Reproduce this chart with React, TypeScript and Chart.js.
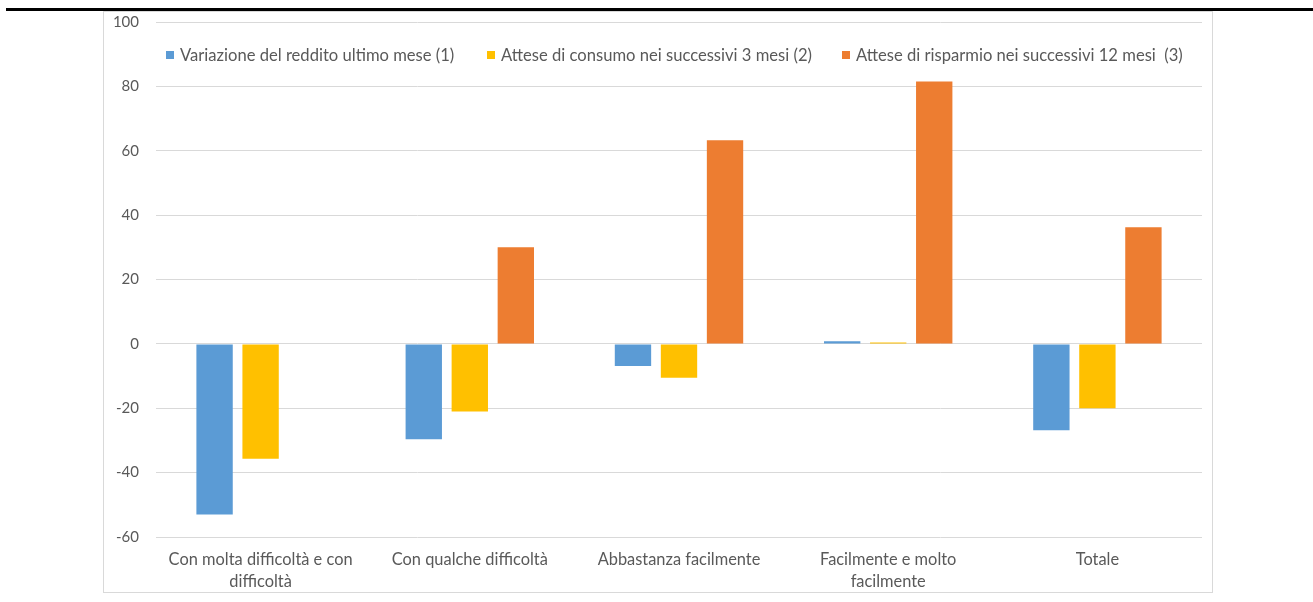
import React, { useEffect, useRef } from "react";
import { Chart, registerables } from "chart.js";

Chart.register(...registerables);

const categories: string[][] = [
  ["Con molta difficoltà e con", "difficoltà"],
  ["Con qualche difficoltà"],
  ["Abbastanza facilmente"],
  ["Facilmente e molto", "facilmente"],
  ["Totale"],
];

const seriesNames = [
  "Variazione del reddito ultimo mese (1)",
  "Attese di consumo nei successivi 3 mesi (2)",
  "Attese di risparmio nei successivi 12 mesi  (3)",
];

const redditoValues: (number | null)[] = [-53.0, -29.6, -6.9, 0.8, -26.8];
const consumoValues: (number | null)[] = [-35.7, -21.0, -10.5, 0.4, -20.0];
const risparmioValues: (number | null)[] = [null, 30.0, 63.3, 81.5, 36.2];

const seriesColors = ["#5B9BD5", "#FFC000", "#ED7D31"];

const yMin = -60;
const yMax = 100;
const yStep = 20;

const FONT = "Lato, 'Noto Sans', sans-serif";
const TEXT = "#595959";
const GRID = "#D9D9D9";

export default function App() {
  const canvasRef = useRef<HTMLCanvasElement | null>(null);

  useEffect(() => {
    if (!canvasRef.current) return;
    const values = [redditoValues, consumoValues, risparmioValues];
    const chart = new Chart(canvasRef.current, {
      type: "bar",
      data: {
        labels: categories,
        datasets: seriesNames.map((name, i) => ({
          label: name,
          data: values[i],
          backgroundColor: seriesColors[i],
          borderWidth: 0,
          categoryPercentage: 0.66,
          barPercentage: 0.79,
        })),
      },
      options: {
        animation: false,
        responsive: false,
        maintainAspectRatio: false,
        layout: { padding: { left: 0, right: 10, top: 10, bottom: 0 } },
        plugins: {
          legend: { display: false },
          tooltip: { enabled: false },
          title: { display: false },
        },
        scales: {
          x: {
            grid: { display: false, drawTicks: false },
            border: { display: false },
            ticks: {
              color: TEXT,
              font: { family: FONT, size: 16.4, lineHeight: "21.5px" },
              padding: 12,
              maxRotation: 0,
              autoSkip: false,
            },
            afterFit: (scale: any) => {
              scale.height = 55;
              scale.paddingTop = 0;
              scale.paddingBottom = 0;
            },
          },
          y: {
            min: yMin,
            max: yMax,
            grid: { color: GRID, lineWidth: 1, drawTicks: false },
            border: { display: false },
            ticks: {
              stepSize: yStep,
              color: TEXT,
              font: { family: FONT, size: 15 },
              padding: 17,
            },
            afterFit: (scale: any) => {
              scale.width = 52;
              scale.paddingTop = 0;
              scale.paddingBottom = 0;
            },
          },
        },
      },
    });
    return () => chart.destroy();
  }, []);

  const legendLefts = [166, 487, 842];

  return (
    <>
      <div
        style={{
          position: "absolute",
          left: 6,
          top: 8,
          width: 1307,
          height: 3,
          background: "#000",
        }}
      />
      <div
        style={{
          position: "absolute",
          left: 103,
          top: 11,
          width: 1110,
          height: 582,
          boxSizing: "border-box",
          border: `1px solid ${GRID}`,
          background: "#fff",
        }}
      >
        <canvas ref={canvasRef} width={1108} height={580} style={{ display: "block" }} />
      </div>
      {seriesNames.map((name, i) => (
        <div
          key={name}
          style={{
            position: "absolute",
            left: legendLefts[i],
            top: 45,
            height: 20,
            display: "flex",
            alignItems: "center",
            fontFamily: FONT,
            fontSize: 16.6,
            color: TEXT,
            whiteSpace: "pre",
          }}
        >
          <span
            style={{
              display: "inline-block",
              width: 8,
              height: 8,
              background: seriesColors[i],
              marginRight: 6,
            }}
          />
          <span>{name}</span>
        </div>
      ))}
    </>
  );
}
